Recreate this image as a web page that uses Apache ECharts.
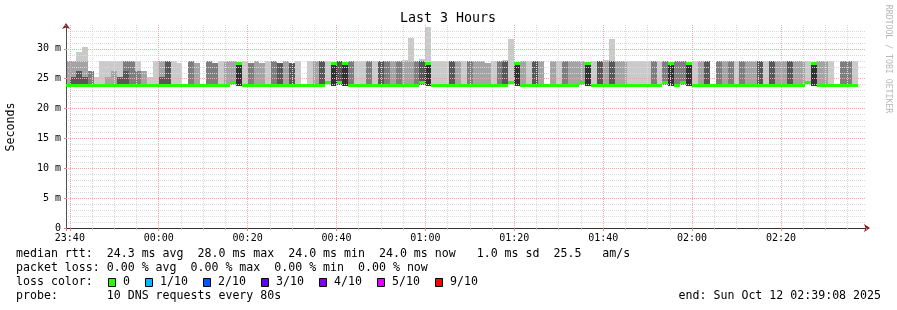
<!DOCTYPE html>
<html><head><meta charset="utf-8">
<script src="https://cdn.jsdelivr.net/npm/echarts@6/dist/echarts.min.js"></script>
<style>html,body{margin:0;padding:0;background:#fff;}#c{width:897px;height:310px;}</style>
</head><body><div id="c"></div>
<script>
// ---------------- data ----------------
const X_START = -20 - 52/60;     // 23:39:08, minutes relative to 00:00
const X_END = 159 + 8/60;        // 02:39:08
const COL_START = -21 - 20/60;   // first 80 s step boundary
const COL_MIN = 80/60;           // step length in minutes

const xTickValues = [-20, 0, 20, 40, 60, 80, 100, 120, 140];
const xTickLabels = ['23:40','00:00','00:20','00:40','01:00','01:20','01:40','02:00','02:20'];
const yTickValues = [0, 5, 10, 15, 20, 25, 30];
const yTickLabels = ['0','5 m','10 m','15 m','20 m','25 m','30 m'];

// 10 pings per 80 s step (ms), "value*count"
const pingSets = [
 "24*8 27.9*2","24*6 25.3*2 27.9*2","24*6 26.3*2 27.9 29.5","24*6 25.3*2 27.9 30.3","24*7 26.3*3","24*9 25.3","24*9 27.9","24*8 25.3 27.9","24*8 26.3 27.9","24*6 25.3*3 27.9",
 "24*6 26.3 27.9*3","24*7 27.9*3","24*7 26.3*2 27.9","24*8 26.3*2","24*9 25.3","24*9 27.9","24*6 25.3*2 27.9*2","24*6 27.9*4","24*9 27.9","24*9 27.7",
 "24*10","24*7 27.9*3","24*8 27.7*2","24*10","24*7 27.9*3","24*7 27.7*3","24*9 27.9","24*8 27.9*2","24*8 27.9*2","23.8*5 27.8*5",
 "24*9 27.9","24*7 27.7*3","24*8 27.9*2","24*8 27.7*2","24*9 27.9","24*7 27.9*3","24*6 27.7*4","24*8 27.9*2","24*6 27.7*4","24*9 27.9",
 "24*10","24*9 27.9","24*8 27.9*2","24*6 27.9*4","24*9 27.9","23.8*5 27.8*5","24*6 27.9*4","23.8*5 27.8*5","24*7 27.9*3","24*9 27.9",
 "24*9 27.9","24*7 27.9*3","24*9 27.9","24*6 27.9*4","24*7 27.9*3","24*8 27.9*2","24*7 27.9*3","24*8 27.9 28.1","24*8 27.9 31.8","24*7 27.9*3",
 "24*6 27.9*3 28.3","23.8*5 27.8*4 33.6","24*9 27.9","24*9 27.9","24*9 27.9","24*6 27.9*4","24*8 27.9*2","24*9 27.9","24*7 27.9*3","24*8 27.9*2",
 "24*8 27.9*2","24*8 27.7*2","24*9 27.9","24*7 27.9*3","24*6 27.9*3 28.2","24*9 31.7","23.8*5 27.8*5","24*8 27.9*2","24*9 27.9","24*6 27.9*4",
 "24*8 27.9*2","24*10","24*8 27.9*2","24*9 27.9","24*7 27.9*3","24*8 27.9*2","24*8 27.9*2","24*8 27.9*2","23.8*5 27.8*5","24*9 27.9",
 "24*6 27.9*4","24*8 27.9 28.2","24*6 27.9*3 31.7","24*8 27.9*2","24*8 27.9*2","24*9 27.9","24*9 27.9","24*9 27.9","24*9 27.9","24*7 27.9*3",
 "24*9 27.9","24*7 27.9*3","23.8*5 27.8*5","24*7 27.9*3","24*7 27.9*3","23.8*5 27.8*5","24*9 27.9","24*8 27.9*2","24*6 27.9*4","24*10",
 "24*7 27.9*3","24*8 27.9*2","24*7 27.9*3","24*9 27.9","24*7 27.9*3","24*8 27.9*2","24*8 27.9*2","24*6 27.9*4","24*9 27.9","24*6 27.9*4",
 "24*8 27.9*2","24*8 27.9*2","24*6 27.9*4","24*8 27.9*2","24*8 27.9*2","24*9 27.9","23.8*5 27.8*5","24*8 27.9*2","24*8 27.9*2","24*9 27.9",
 "24*10","24*7 27.9*3","24*7 27.9*3","24*9 27.9"
];

// median rtt per step (ms)
const medianMs = [
 24,24,24,24,24,24,24,24,24,24,
 24,24,24,24,24,24,24,24,24,24,
 24,24,24,24,24,24,24,24,24.4,27.6,
 24,24,24,24,24,24,24,24,24,24,
 24,24,24,24,24.4,27.6,24.4,27.6,24,24,
 24,24,24,24,24,24,24,24,24,24,
 24.4,27.6,24,24,24,24,24,24,24,24,
 24,24,24,24,24,24.4,27.6,24,24,24,
 24,24,24,24,24,24,24,24.4,27.6,24,
 24,24,24,24,24,24,24,24,24,24,
 24,24.4,27.6,24,24.4,27.6,24,24,24,24,
 24,24,24,24,24,24,24,24,24,24,
 24,24,24,24,24,24.4,27.6,24,24,24,
 24,24,24,24
];

const lossLabels = ['0','1/10','2/10','3/10','4/10','5/10','9/10'];
const lossColors = ['#26ff00','#00b8ff','#0059ff','#5e00ff','#7e00ff','#dd00ff','#ff0000'];
const smokeShades = ['#cacaca','#a4a4a4','#7e7e7e','#585858','#323232'];
const medianColor = '#26ff00';

const statRows = [
 'median rtt:  24.3 ms avg  28.0 ms max  24.0 ms min  24.0 ms now   1.0 ms sd  25.5   am/s',
 'packet loss: 0.00 % avg  0.00 % max  0.00 % min  0.00 % now'
];
const probeText = 'probe:       10 DNS requests every 80s';
const endText = 'end: Sun Oct 12 02:39:08 2025';
const titleText = 'Last 3 Hours';
const yName = 'Seconds';
const watermark = 'RRDTOOL / TOBI OETIKER';

// ---------------- build ----------------
function parsePings(s) {
  const out = [];
  s.split(' ').forEach(tok => {
    const parts = tok.split('*');
    const v = parseFloat(parts[0]);
    const n = parts.length > 1 ? parseInt(parts[1], 10) : 1;
    for (let i = 0; i < n; i++) out.push(v);
  });
  return out.sort((a, b) => a - b);
}
const pings = pingSets.map(parsePings);
const colData = pingSets.map((s, j) => [COL_START + (j + 0.5) * COL_MIN, medianMs[j]]);

function colRange(j) {
  let t0 = COL_START + j * COL_MIN, t1 = t0 + COL_MIN;
  return [Math.max(t0, X_START), Math.min(t1, X_END)];
}

function renderSmoke(params, api) {
  const j = params.dataIndex;
  const p = pings[j];
  const [t0, t1] = colRange(j);
  if (t1 <= t0) return;
  const children = [];
  const n = p.length;
  for (let i = 0; i < n / 2; i++) {
    const lo = p[i], hi = p[n - 1 - i];
    if (hi <= lo) continue;
    const a = api.coord([t0, hi]), b = api.coord([t1, lo]);
    const x0 = Math.round(a[0]), x1 = Math.round(b[0]);
    const y0 = Math.round(a[1]), y1 = Math.round(b[1]);
    if (y1 - y0 <= 0) continue;
    children.push({type: 'rect', shape: {x: x0, y: y0, width: x1 - x0, height: y1 - y0},
      style: {fill: smokeShades[Math.min(i, smokeShades.length - 1)]}});
  }
  return {type: 'group', children};
}

function renderMedian(params, api) {
  const j = params.dataIndex;
  const [t0, t1] = colRange(j);
  if (t1 <= t0) return;
  const a = api.coord([t0, medianMs[j]]), b = api.coord([t1, medianMs[j]]);
  const x0 = Math.round(a[0]), x1 = Math.round(b[0]);
  const yc = Math.round(a[1]);
  return {type: 'rect', shape: {x: x0, y: yc - 1, width: x1 - x0, height: 3}, style: {fill: medianColor}};
}

const FF = 'DejaVu Sans Mono';
const LFS = 11.6;
const CHAR_W = LFS * 0.602;
const MINOR = '#dadada', MAJOR = '#f2a8a8';

const xBase = {type: 'value', min: X_START, max: X_END, position: 'bottom'};
const yBase = {type: 'value', min: 0, max: 34, position: 'left'};

function txt(text, x, y, opts) {
  return Object.assign({type: 'text', x: x, y: y, silent: true,
    style: Object.assign({text: text, fontFamily: FF, fontSize: LFS, fill: '#000',
      textAlign: 'left', textVerticalAlign: 'middle'}, (opts && opts.style) || {})},
    (opts && opts.el) || {});
}

const graphics = [];
graphics.push(txt(titleText, 448, 19, {style: {fontSize: 13.3, textAlign: 'center'}}));
graphics.push(txt(yName, 11, 127, {style: {textAlign: 'center'}, el: {rotation: Math.PI / 2}}));
graphics.push(txt(watermark, 888, 59, {style: {fontSize: 8.2, textAlign: 'center', fill: '#b8b8b8'}, el: {rotation: -Math.PI / 2}}));
graphics.push(txt(statRows[0], 16, 254));
graphics.push(txt(statRows[1], 16, 268));
graphics.push(txt('loss color:', 16, 282));
let bx = 108.5;
lossLabels.forEach((lab, i) => {
  graphics.push({type: 'rect', silent: true, shape: {x: bx, y: 278.5, width: 7, height: 8},
    style: {fill: lossColors[i], stroke: '#000', lineWidth: 1}});
  const tx = bx + 14.5;
  graphics.push(txt(lab, tx, 282));
  bx = Math.round(tx + lab.length * CHAR_W + 15.4) + 0.5;
});
graphics.push(txt(probeText, 16, 296));
graphics.push(txt(endText, 881, 296, {style: {textAlign: 'right'}}));

const option = {
  animation: false,
  backgroundColor: '#ffffff',
  grid: {left: 66, right: 31, top: 25, bottom: 82, containLabel: false},
  xAxis: [
    Object.assign({}, xBase, {
      minInterval: 5, maxInterval: 5, splitNumber: 36, z: 3,
      axisLine: {show: true, onZero: false, lineStyle: {color: '#303030', width: 1}},
      axisTick: {show: true, length: 2, lineStyle: {color: '#bbbbbb'}},
      axisLabel: {show: false},
      splitLine: {show: true, showMinLine: false, showMaxLine: false, lineStyle: {color: MINOR, type: [1, 1], width: 1}}
    }),
    Object.assign({}, xBase, {
      minInterval: 20, maxInterval: 20, splitNumber: 9, z: 4,
      axisLine: {show: false, onZero: false},
      axisTick: {show: true, length: 3, lineStyle: {color: '#e08080'}},
      axisLabel: {show: true, margin: 5, fontFamily: FF, fontSize: 10, color: '#000',
        formatter: v => { const r = Math.round(v); if (Math.abs(v - r) > 1e-6) return ''; const k = xTickValues.indexOf(r); return k >= 0 ? xTickLabels[k] : ''; }},
      splitLine: {show: true, showMinLine: false, showMaxLine: false, lineStyle: {color: MAJOR, type: [1, 1], width: 1}}
    }),
    Object.assign({}, xBase, {
      z: 2,
      axisLine: {show: true, onZero: false, symbol: ['none', 'arrow'], symbolSize: [6, 6], symbolOffset: [0, 4], lineStyle: {color: '#8b1a1a'}},
      axisTick: {show: false}, axisLabel: {show: false}, splitLine: {show: false}
    })
  ],
  yAxis: [
    Object.assign({}, yBase, {
      interval: 1, z: 3,
      axisLine: {show: true, onZero: false, lineStyle: {color: '#505050', width: 1}},
      axisTick: {show: false}, axisLabel: {show: false},
      splitLine: {show: true, showMinLine: false, showMaxLine: false, lineStyle: {color: MINOR, type: [1, 1], width: 1}}
    }),
    Object.assign({}, yBase, {
      interval: 5, z: 4,
      axisLine: {show: false, onZero: false},
      axisTick: {show: true, length: 2, lineStyle: {color: '#e08080'}},
      axisLabel: {show: true, margin: 5, fontFamily: FF, fontSize: 10, color: '#000',
        formatter: v => { const k = yTickValues.indexOf(v); return k >= 0 ? yTickLabels[k] : ''; }},
      splitLine: {show: true, showMinLine: false, showMaxLine: false, lineStyle: {color: MAJOR, type: [1, 1], width: 1}}
    }),
    Object.assign({}, yBase, {
      z: 2,
      axisLine: {show: true, onZero: false, symbol: ['none', 'arrow'], symbolSize: [6, 6], symbolOffset: [0, 2], lineStyle: {color: '#8b1a1a'}},
      axisTick: {show: false}, axisLabel: {show: false}, splitLine: {show: false}
    })
  ],
  series: [
    {type: 'custom', name: 'smoke', coordinateSystem: 'cartesian2d', xAxisIndex: 0, yAxisIndex: 0,
      z: 1, silent: true, renderItem: renderSmoke, data: colData},
    {type: 'custom', name: 'median', coordinateSystem: 'cartesian2d', xAxisIndex: 0, yAxisIndex: 0,
      z: 10, silent: true, renderItem: renderMedian, data: colData}
  ],
  graphic: graphics
};

const chart = echarts.init(document.getElementById('c'), null, {renderer: 'canvas'});
chart.setOption(option);
</script>
</body></html>
